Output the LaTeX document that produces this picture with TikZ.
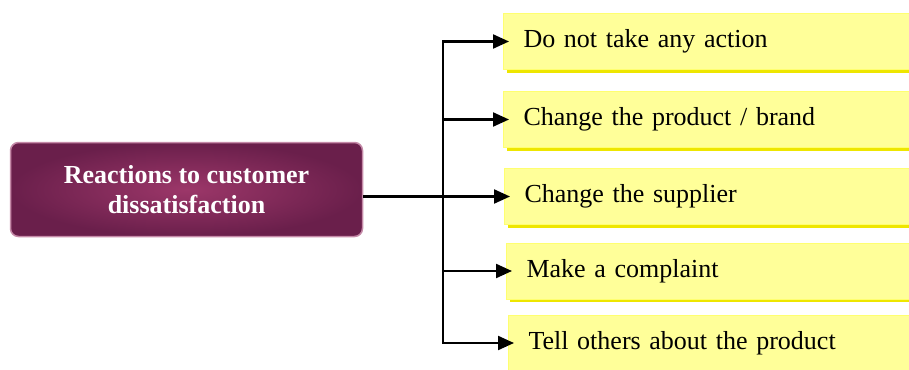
\documentclass[tikz,border=0pt]{standalone}
\usepackage{fontspec}
\setmainfont{Liberation Serif}
\usetikzlibrary{arrows.meta,shadows}
\definecolor{plum}{HTML}{6A1F4B}
\definecolor{plumlight}{HTML}{9C3769}
\definecolor{plumedge}{HTML}{C58AA8}
\definecolor{pale}{HTML}{FFFF99}
\definecolor{paleedge}{HTML}{FFFF70}
\definecolor{shade}{HTML}{EEE600}
\tikzset{
  main/.style={rounded corners=8pt, inner color=plumlight, outer color=plum,
    draw=plumedge, line width=1.5pt, minimum width=352pt, minimum height=94pt,
    text=white, align=center, font=\bfseries\fontsize{26}{30}\selectfont},
  reaction/.style={anchor=west, fill=pale, draw=paleedge, line width=1pt,
    minimum height=56pt, text width=370pt, inner xsep=20pt, align=left,
    font=\fontsize{26}{30}\selectfont,
    drop shadow={shadow xshift=3pt, shadow yshift=-3pt, fill=shade, opacity=1}},
  link/.style={line width=2.2pt, shorten >=-6pt, -{Triangle[length=16pt,width=14pt]}}
}
\begin{document}
\begin{tikzpicture}[x=1pt,y=-1pt]
\useasboundingbox (0,0) rectangle (909,369);
\node[main] (R) at (186.5,189.5) {Reactions to customer\\dissatisfaction};
\node[reaction] (r1) at (503,41.5) {Do not take any action};
\node[reaction] (r2) at (503,119.5) {Change the product / brand};
\node[reaction] (r3) at (504,196.5) {Change the supplier};
\node[reaction] (r4) at (506,271) {Make a complaint};
\node[reaction] (r5) at (508,343) {Tell others about the product};
\coordinate (J) at (443,196.5);
\draw[line width=2.2pt] (R.east |- J) -- (J);
\draw[line width=2.2pt, line cap=rect] (J |- r1.west) -- (J |- r5.west);
\foreach \i in {1,...,5}
  \draw[link] (J |- r\i.west) -- (r\i.west);
\end{tikzpicture}
\end{document}
